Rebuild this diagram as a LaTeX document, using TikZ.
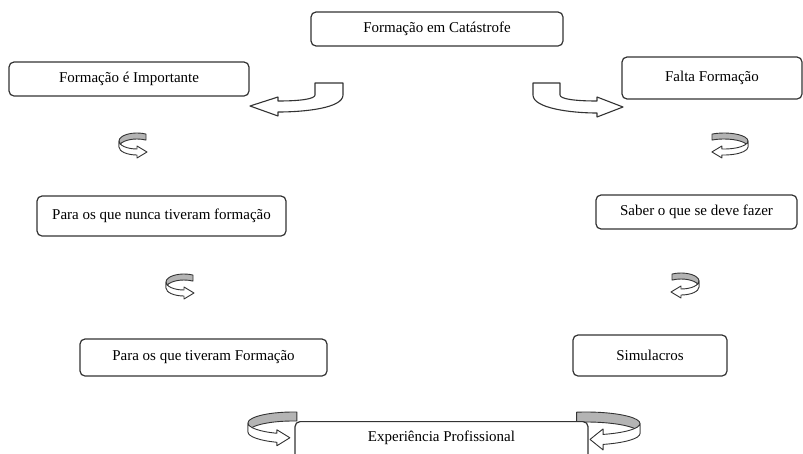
\documentclass[tikz,border=0pt]{standalone}
\usepackage{fontspec}
\setmainfont{Liberation Serif}
\definecolor{edge}{HTML}{333333}
\definecolor{ribgray}{HTML}{B4B4B4}
% ribbon arrow: rx, ry, thickness, back start angle, front end angle, barb, head length
\newcommand{\ribarrow}[7]{%
  \pgfmathsetmacro\ribxe{#1*cos(#5)}%
  \pgfmathsetmacro\ribye{#2*sin(#5)}%
  \filldraw[ribback] (#4:#1 and #2) arc[start angle=#4, end angle=180, x radius=#1, y radius=#2]
     -- ++(0,-#3) arc[start angle=180, end angle=#4, x radius=#1, y radius=#2] -- cycle;
  \filldraw[ribfront] (-#1,0) arc[start angle=180, end angle=#5, x radius=#1, y radius=#2]
     -- (\ribxe,\ribye+#6) -- (\ribxe+#7,\ribye-#3/2) -- (\ribxe,\ribye-#3-#6)
     -- (\ribxe,\ribye-#3) arc[start angle=#5, end angle=180, x radius=#1, y radius=#2] -- cycle;
}
\begin{document}
\begin{tikzpicture}[x=1pt,y=1pt,
  box/.style={draw=edge, line width=1.2pt, rounded corners=5pt, fill=white,
    font=\fontsize{15}{18}\selectfont, text=black, inner sep=0pt},
  ribback/.style={draw=edge, line width=0.9pt, fill=ribgray, line join=round},
  ribfront/.style={draw=edge, line width=0.9pt, fill=white, line join=round},
  bent/.style={draw=edge, line width=1.1pt, fill=white, line join=round},
  lbl/.style={font=\fontsize{15}{18}\selectfont, text=black}]
\useasboundingbox (0,0) rectangle (803,-453);
\fill[white] (0,0) rectangle (803,-453);

% bottom ribbon arrows (partly behind the last box)
\begin{scope}[shift={(293,-423)}]\ribarrow{45}{11}{9}{85}{249}{3.5}{13}\end{scope}
\begin{scope}[shift={(586,-423.5)}, xscale=-1]\ribarrow{54}{11.5}{10}{80}{251.6}{5.5}{13}\end{scope}

% boxes
\node[box, minimum width=252, minimum height=34] (a) at (437,-29) {Formação em Catástrofe};
\node[box, minimum width=240, minimum height=34] (b) at (129,-79) {Formação é Importante};
\node[box, minimum width=180, minimum height=42] (c) at (712,-78) {Falta Formação};
\node[box, minimum width=249, minimum height=40] (d) at (161.5,-216) {Para os que nunca tiveram formação};
\node[box, minimum width=201, minimum height=34] (e) at (696.5,-212) {Saber o que se deve fazer};
\node[box, minimum width=247, minimum height=37] (f) at (203.5,-357.5) {Para os que tiveram Formação};
\node[box, minimum width=154, minimum height=41] (g) at (650,-355.5) {Simulacros};
\node[box, minimum width=293, minimum height=50, anchor=north] (h) at (441.5,-421) {};
\node[lbl] (htxt) at (441.5,-438) {Experiência Profissional};

% bent arrows at the top
\path[bent] (315,-83) -- (343,-83) -- (343,-95)
  .. controls (343,-108) and (305,-112) .. (278,-112) -- (278,-116) -- (250,-106)
  -- (278,-97) -- (278,-101) .. controls (300,-101) and (315,-99) .. (315,-95) -- cycle;
\path[bent] (560,-83) -- (533,-83) -- (533,-95)
  .. controls (533,-108) and (570,-113) .. (597,-113) -- (597,-117) -- (623,-107)
  -- (597,-97) -- (597,-101) .. controls (575,-101) and (560,-99) .. (560,-95) -- cycle;

% small ribbon arrows, left column
\begin{scope}[shift={(137,-141)}]\ribarrow{18}{8}{6}{60}{270}{3}{10}\end{scope}
\begin{scope}[shift={(184,-282)}]\ribarrow{18}{8}{6}{60}{270}{3}{10}\end{scope}
% small ribbon arrows, right column
\begin{scope}[shift={(724,-141)}, xscale=-1]\ribarrow{24}{8}{6}{60}{275}{3}{10}\end{scope}
\begin{scope}[shift={(681,-281)}, xscale=-1]\ribarrow{18}{8}{6}{60}{270}{3}{10}\end{scope}
\end{tikzpicture}
\end{document}
